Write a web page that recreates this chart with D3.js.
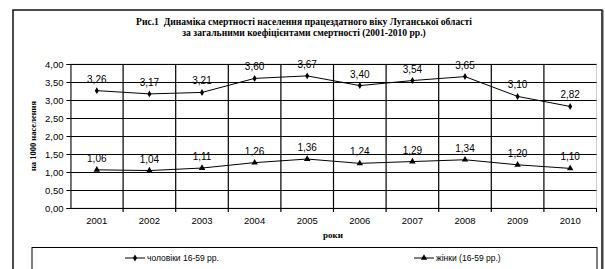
<!DOCTYPE html>
<html>
<head>
<meta charset="utf-8">
<script src="https://cdn.jsdelivr.net/npm/d3@7"></script>
<style>
body{margin:0;background:#fff;}
svg text{font-family:"Liberation Sans",Arial,sans-serif;}
.serif{font-family:"Liberation Serif","Times New Roman",serif;font-weight:bold;}
</style>
</head>
<body>
<div id="chart"></div>
<script>
var years = ['2001','2002','2003','2004','2005','2006','2007','2008','2009','2010'];
var men = [3.26,3.17,3.21,3.60,3.67,3.40,3.54,3.65,3.10,2.82];
var women = [1.06,1.04,1.11,1.26,1.36,1.24,1.29,1.34,1.20,1.10];
var yTicks = [0,0.5,1,1.5,2,2.5,3,3.5,4];
var seriesNames = ['чоловіки 16-59 рр.','жінки (16-59 рр.)'];

(function(){
var W=605,H=269;
var svg=d3.select('#chart').append('svg').attr('width',W).attr('height',H);

// outer frame
svg.append('rect').attr('x',13).attr('y',10).attr('width',589).attr('height',270)
	.attr('fill','none').attr('stroke','#111').attr('stroke-width',1.5);
svg.append('line').attr('x1',602.5).attr('x2',602.5).attr('y1',10).attr('y2',H)
	.attr('stroke','#444').attr('stroke-width',2);

// title
svg.append('text').attr('class','serif').attr('x',304).attr('y',25).attr('text-anchor','middle')
	.style('font-size','9.6px').attr('xml:space','preserve')
	.text('Рис.1  Динаміка смертності населення працездатного віку Луганської області');
svg.append('text').attr('class','serif').attr('x',304).attr('y',35.5).attr('text-anchor','middle')
	.style('font-size','9.6px').text('за загальними коефіцієнтами смертності (2001-2010 рр.)');

var pL=70.5,pR=596.5,pT=64,pB=208;
var x=d3.scaleBand().domain(years).range([pL,pR]);
var y=d3.scaleLinear().domain([0,4]).range([pB,pT]);

// plot area border
svg.append('rect').attr('x',pL).attr('y',pT).attr('width',pR-pL).attr('height',pB-pT)
	.attr('fill','none').attr('stroke','#ccc');

// horizontal grid
svg.selectAll('.hg').data(yTicks.slice(1)).enter().append('line')
	.attr('x1',pL).attr('x2',pR)
	.attr('y1',function(d){return Math.round(y(d))+0.5;})
	.attr('y2',function(d){return Math.round(y(d))+0.5;})
	.attr('stroke','#000').attr('stroke-width',1.2);

// vertical grid at category boundaries
svg.selectAll('.vg').data(years.slice(1)).enter().append('line')
	.attr('x1',function(d){return x(d);}).attr('x2',function(d){return x(d);})
	.attr('y1',pT).attr('y2',pB+4)
	.attr('stroke','#000').attr('stroke-width',1.2);

// y axis
var ya=svg.append('g').attr('transform','translate('+pL+',0)')
	.call(d3.axisLeft(y).tickValues(yTicks).tickSize(4).tickFormat(function(d){return d.toFixed(2).replace('.',',');}));
ya.select('.domain').attr('stroke','#000');
ya.selectAll('text').style('font-size','9.5px').style('font-family','"Liberation Sans",Arial,sans-serif').attr('fill','#000');

// x axis
var xa=svg.append('g').attr('transform','translate(0,'+pB+')')
	.call(d3.axisBottom(x).tickSize(0).tickPadding(9));
xa.select('.domain').attr('stroke','#000').attr('stroke-width',1.2).attr('d','M'+pL+',0.5H'+pR);
xa.selectAll('text').style('font-size','9.5px').style('font-family','"Liberation Sans",Arial,sans-serif').attr('fill','#000');
svg.append('line').attr('x1',pR).attr('x2',pR).attr('y1',pB).attr('y2',pB+4).attr('stroke','#000');

// axis titles
svg.append('text').attr('class','serif').attr('x',333).attr('y',238).attr('text-anchor','middle')
	.style('font-size','9px').text('роки');
svg.append('text').attr('class','serif').attr('transform','translate(36,136) rotate(-90)')
	.attr('text-anchor','middle').style('font-size','8.5px').text('на 1000 населення');

var line=d3.line().x(function(d,i){return x(years[i])+x.bandwidth()/2;}).y(function(d){return y(d);});
var tri=d3.symbol().type(d3.symbolTriangle).size(18);
var dia=d3.symbol().type(d3.symbolDiamond).size(14);

function drawSeries(vals,sym){
	svg.append('path').datum(vals).attr('d',line).attr('fill','none').attr('stroke','#000').attr('stroke-width',1);
	svg.selectAll(null).data(vals).enter().append('path')
		.attr('d',sym)
		.attr('transform',function(d,i){return 'translate('+(x(years[i])+x.bandwidth()/2)+','+y(d)+')';})
		.attr('fill','#000');
	svg.selectAll(null).data(vals).enter().append('text')
		.attr('x',function(d,i){return x(years[i])+x.bandwidth()/2;})
		.attr('y',function(d){return y(d)-8;})
		.attr('text-anchor','middle').style('font-size','10px').attr('fill','#000')
		.text(function(d){return d.toFixed(2).replace('.',',');});
}
drawSeries(men,dia);
drawSeries(women,tri);

// legend
svg.append('rect').attr('x',32).attr('y',247.5).attr('width',565).attr('height',40)
	.attr('fill','none').attr('stroke','#000');
var legX=[125,414];
var syms=[dia,tri];
seriesNames.forEach(function(n,i){
	var g=svg.append('g').attr('transform','translate('+legX[i]+',258)');
	g.append('line').attr('x1',0).attr('x2',20).attr('stroke','#000');
	g.append('path').attr('d',syms[i]).attr('transform','translate(10,0)').attr('fill','#000');
	g.append('text').attr('x',22).attr('y',3).style('font-size','8.5px').text(n);
});
})();
</script>
</body>
</html>
